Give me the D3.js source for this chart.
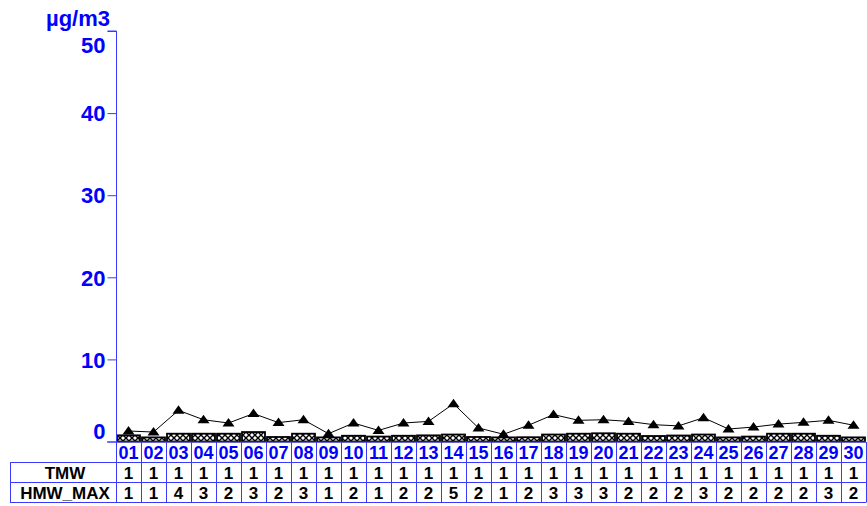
<!DOCTYPE html>
<html>
<head>
<meta charset="utf-8">
<script src="https://cdn.jsdelivr.net/npm/d3@7"></script>
<style>
  html, body { margin: 0; padding: 0; background: #fff; }
  svg { display: block; font-family: "Liberation Sans", Arial, sans-serif; }
</style>
</head>
<body>
<svg id="chart" width="867" height="506"></svg>
<script>
// ---- data ----
const days = ["01","02","03","04","05","06","07","08","09","10","11","12","13","14","15","16","17","18","19","20","21","22","23","24","25","26","27","28","29","30"];
const tmw = [0.75,0.5,0.95,0.95,0.95,1.15,0.55,0.95,0.5,0.7,0.6,0.7,0.75,0.85,0.55,0.5,0.52,0.85,0.95,1.0,0.95,0.67,0.73,0.85,0.5,0.6,0.95,0.95,0.7,0.5];
const hmwMax = [1.28,1.15,3.8,2.65,2.25,3.4,2.3,2.65,0.95,2.25,1.35,2.25,2.45,4.6,1.65,0.88,1.98,3.28,2.58,2.65,2.45,2.05,1.9,2.9,1.52,1.76,2.12,2.33,2.58,1.98];
const yTicks = [0,10,20,30,40,50];
const unitLabel = "µg/m3";
const rowNames = ["TMW","HMW_MAX"];
const rowValues = [tmw, hmwMax];

(function () {
// ---- layout ----
const svg = d3.select("#chart");
const left = 116, right = 866, plotTop = 31, base = 441.5;
const blue = "#0000ff", lineBlue = "#3a3aff";
const x = d3.scaleBand().domain(days).range([left, right]).padding(0);
const y = d3.scaleLinear().domain([0, 50]).range([base, plotTop]);

// pattern
const defs = svg.append("defs");
const pat = defs.append("pattern").attr("id","hatch").attr("patternUnits","userSpaceOnUse")
  .attr("width",6).attr("height",6);
pat.append("rect").attr("width",6).attr("height",6).attr("fill","#fff");
pat.append("path").attr("d","M0,0L6,6M6,0L0,6").attr("stroke","#000").attr("stroke-width",1.4);

// bars
svg.append("g").selectAll("rect").data(days).join("rect")
  .attr("x", d => x(d) + 1)
  .attr("width", x.bandwidth() - 2)
  .attr("y", (d,i) => y(tmw[i]))
  .attr("height", (d,i) => y(0) - y(tmw[i]))
  .attr("fill","url(#hatch)")
  .attr("stroke","#000").attr("stroke-width",1.8);

// line
const line = d3.line().x((d,i) => x(days[i]) + x.bandwidth()/2).y(d => y(d));
svg.append("path").datum(hmwMax).attr("d", line).attr("fill","none").attr("stroke","#000").attr("stroke-width",1);
svg.append("g").selectAll("path").data(hmwMax).join("path")
  .attr("transform", (d,i) => `translate(${x(days[i]) + x.bandwidth()/2},${y(d)})`)
  .attr("d", "M0,-5L6,3.5L-6,3.5Z").attr("fill","#000");

// y axis
const ya = svg.append("g").attr("transform", `translate(${left + 0.5},0)`)
  .call(d3.axisLeft(y).tickValues(yTicks).tickSize(9).tickFormat(d3.format("d")));
ya.select(".domain").attr("stroke", lineBlue).attr("d", `M-9,${plotTop}H0V${base + 0.5}`);
ya.selectAll(".tick line").attr("stroke", lineBlue);
ya.selectAll(".tick text").attr("fill", blue).attr("font-size", 22).attr("font-weight","bold")
  .attr("font-family","'Liberation Sans', Arial, sans-serif").attr("x", -11)
  .attr("dy", d => d === 0 ? "-0.15em" : d === 50 ? "0.98em" : "0.35em");

svg.append("text").attr("x", 110).attr("y", 26).attr("text-anchor","end")
  .attr("fill", blue).attr("font-size", 22).attr("font-weight","bold").text(unitLabel);

// x baseline
const rowTop = base + 0.5, r1 = 462, r2 = 482, r3 = 502;
svg.append("line").attr("x1", 107).attr("x2", right).attr("y1", rowTop).attr("y2", rowTop)
  .attr("stroke", lineBlue).attr("stroke-width", 1);

// category labels row
const g = svg.append("g");
const bounds = days.map(d => x(d)).concat([right]);
g.selectAll("line.v").data(bounds).join("line")
  .attr("x1", d => Math.round(d) + 0.5).attr("x2", d => Math.round(d) + 0.5)
  .attr("y1", rowTop).attr("y2", r3)
  .attr("stroke", lineBlue).attr("stroke-width", 1);
g.selectAll("text.cat").data(days).join("text")
  .attr("x", d => x(d) + x.bandwidth()/2).attr("y", 459)
  .attr("text-anchor","middle").attr("fill", blue).attr("font-size", 18).attr("font-weight","bold").text(d => d);

// table rows
[r1, r2, r3].forEach(ry => {
  g.append("line").attr("x1", 10).attr("x2", right + 0.5).attr("y1", ry + 0.5).attr("y2", ry + 0.5)
    .attr("stroke", lineBlue).attr("stroke-width", 1);
});
g.append("line").attr("x1", 10.5).attr("x2", 10.5).attr("y1", r1).attr("y2", r3 + 1)
  .attr("stroke", lineBlue).attr("stroke-width", 1);

rowNames.forEach((name, k) => {
  const cy = [r1, r2][k] + 17;
  g.append("text").attr("x", (10 + left)/2 + 2).attr("y", cy).attr("text-anchor","middle")
    .attr("fill","#000").attr("font-size", 17).attr("font-weight","bold").text(name);
  g.selectAll(null).data(rowValues[k]).join("text")
    .attr("x", (d,i) => x(days[i]) + x.bandwidth()/2).attr("y", cy)
    .attr("text-anchor","middle").attr("fill","#000").attr("font-size", 17).attr("font-weight","bold")
    .text(d => d3.format(".0f")(d));
});
})();
</script>
</body>
</html>
